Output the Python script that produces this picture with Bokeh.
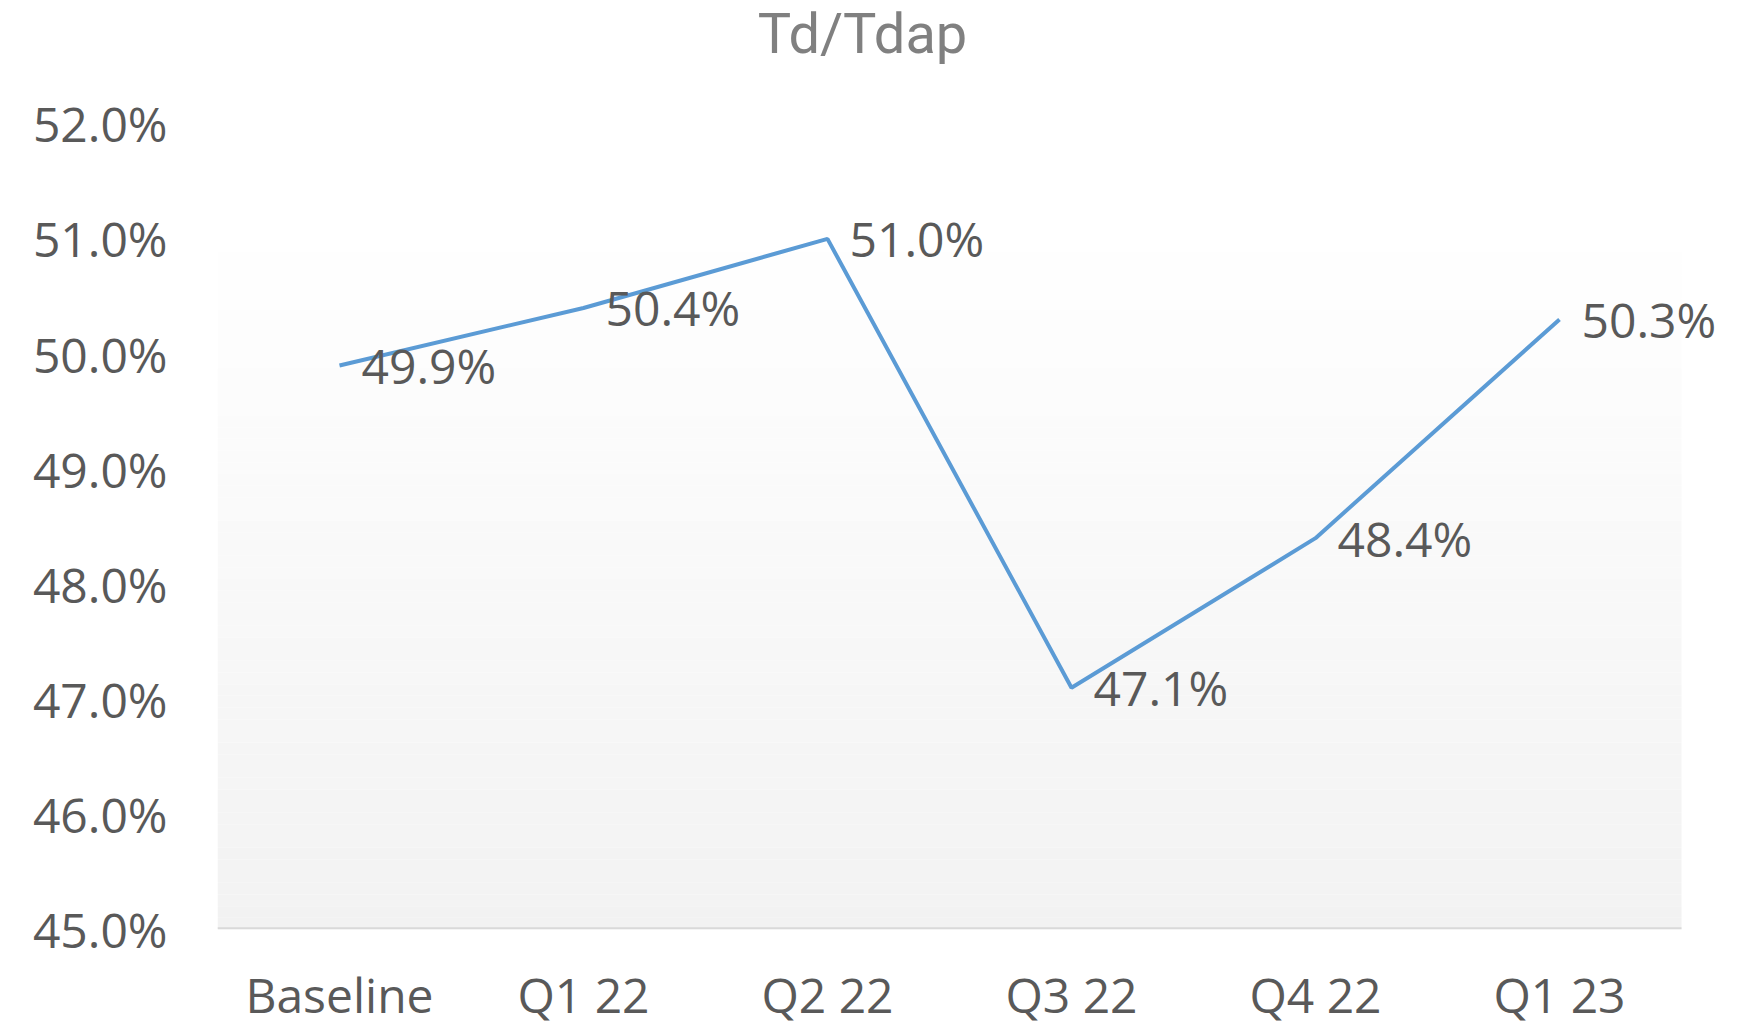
from bokeh.plotting import figure
from bokeh.models import (ColumnDataSource, LabelSet, Label, BoxAnnotation, FixedTicker,
                          NumeralTickFormatter, Range1d)
from bokeh.core.properties import value
from bokeh.embed import file_html
from bokeh.resources import INLINE

categories = ["Baseline", "Q1 22", "Q2 22", "Q3 22", "Q4 22", "Q1 23"]
values = [0.499, 0.504, 0.510, 0.471, 0.484, 0.503]
labels = ["49.9%", "50.4%", "51.0%", "47.1%", "48.4%", "50.3%"]
y_ticks = [0.45, 0.46, 0.47, 0.48, 0.49, 0.50, 0.51, 0.52]
title_text = "Td/Tdap"

FONT = "Open Sans"
TXT = "#595959"
FS = "48px"

xs = list(range(len(categories)))
PX_X = 244.0      # pixels per category
PX_Y = 11510.0    # pixels per unit of y (115.1 px per 1%)
FW, FH = 1525, 929
y0 = 0.45
x_lo = -0.5
p = figure(x_range=Range1d(x_lo, x_lo + FW / PX_X), y_range=Range1d(y0, y0 + FH / PX_Y),
           frame_width=FW, frame_height=FH,
           min_border_left=217, min_border_right=2, min_border_top=0, min_border_bottom=95,
           output_backend="svg", toolbar_location=None, tools="")
p.outline_line_color = None
p.background_fill_color = "white"
p.border_fill_color = "white"
p.xgrid.grid_line_color = None
p.ygrid.grid_line_color = None

# plot-area gradient (white -> #f2f2f2)
g_top, g_bot = 0.5109, y0
n = 60
for i in range(n):
    t = (i + 0.5) / n
    c = int(round(255 - (255 - 242) * t))
    top = g_top - (g_top - g_bot) * i / n
    bot = g_top - (g_top - g_bot) * (i + 1) / n
    p.add_layout(BoxAnnotation(left=-0.5, right=len(categories) - 0.5, top=top, bottom=bot,
                               fill_color=f"#{c:02x}{c:02x}{c:02x}",
                               fill_alpha=1, line_alpha=0, level="underlay"))

# category axis line
p.add_layout(BoxAnnotation(left=-0.5, right=len(categories) - 0.5, bottom=y0, top=y0 + 2.2 / PX_Y,
                           fill_color="#d9d9d9", fill_alpha=1, line_alpha=0, level="underlay"))

src = ColumnDataSource(dict(x=xs, y=values, lab=labels))
p.line("x", "y", source=src, line_color="#5b9bd5", line_width=4)

p.add_layout(LabelSet(x="x", y="y", text="lab", source=src, x_offset=22, y_offset=0,
                      text_font=value(FONT), text_font_size=FS, text_color=TXT,
                      text_baseline="middle", text_align="left"))

p.yaxis.ticker = FixedTicker(ticks=y_ticks)
p.yaxis.formatter = NumeralTickFormatter(format="0.0%")
p.yaxis.axis_line_color = None
p.yaxis.major_tick_line_color = None
p.yaxis.minor_tick_line_color = None
p.yaxis.major_label_standoff = 44
p.yaxis.major_label_text_font = FONT
p.yaxis.major_label_text_font_size = FS
p.yaxis.major_label_text_color = TXT

p.xaxis.ticker = FixedTicker(ticks=xs)
p.xaxis.major_label_overrides = {i: c for i, c in zip(xs, categories)}
p.xaxis.axis_line_color = None
p.xaxis.major_tick_line_color = None
p.xaxis.minor_tick_line_color = None
p.xaxis.major_label_standoff = 26
p.xaxis.major_label_text_font = FONT
p.xaxis.major_label_text_font_size = FS
p.xaxis.major_label_text_color = TXT

# chart title, centred over the chart area
p.add_layout(Label(x=(862 - 217) / PX_X + x_lo, y=y0 + (929 - 33) / PX_Y, text=title_text,
                   text_font="Roboto", text_font_size="56px", text_color="#808080",
                   text_align="center", text_baseline="alphabetic"))

open("out.html", "w").write(file_html(p, INLINE))
